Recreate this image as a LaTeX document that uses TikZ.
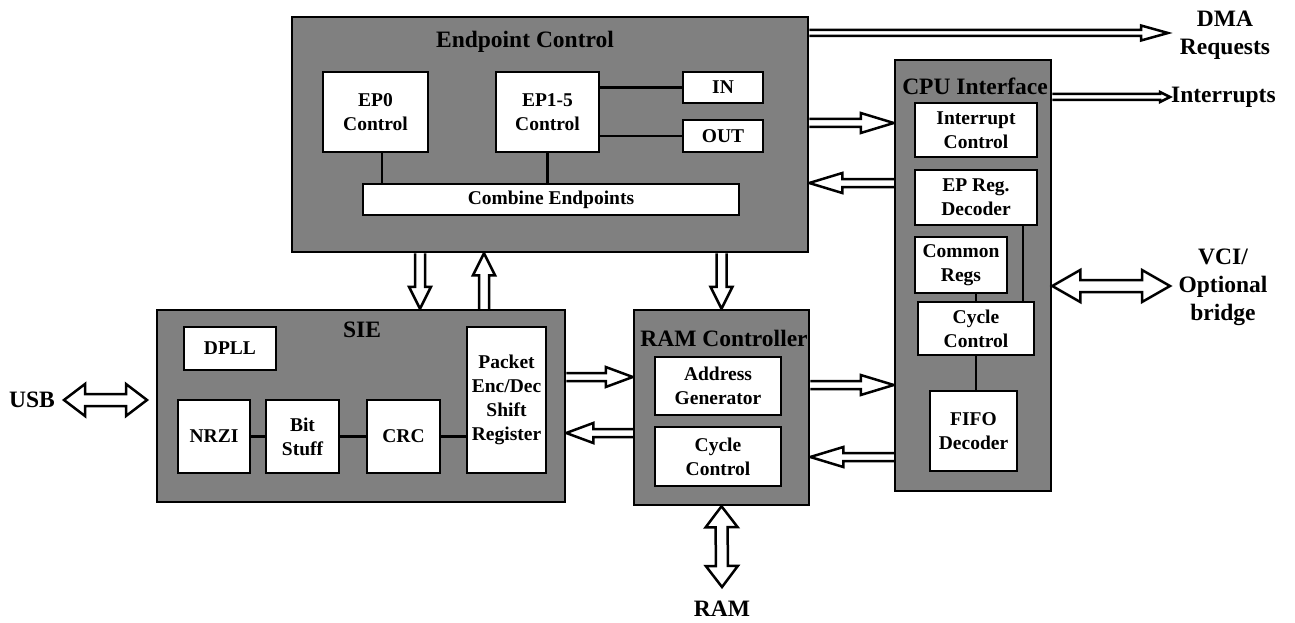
\documentclass[tikz,border=0pt]{standalone}
\usepackage{fontspec}
\setmainfont{Liberation Serif}
\usetikzlibrary{calc,backgrounds}
\definecolor{boxgray}{HTML}{808080}
\newcommand{\oneway}[5]{%
  \coordinate (tmpP) at ($(#2)!#5!(#1)$);
  \draw[arrowshape] ($(#1)!#3!90:(#2)$) -- ($(tmpP)!#3!90:(#2)$) -- ($(tmpP)!#4!90:(#2)$) -- (#2) -- ($(tmpP)!#4!-90:(#2)$) -- ($(tmpP)!#3!-90:(#2)$) -- ($(#1)!#3!-90:(#2)$);}
\newcommand{\twoway}[5]{%
  \coordinate (tmpP) at ($(#2)!#5!(#1)$);
  \coordinate (tmpQ) at ($(#1)!#5!(#2)$);
  \draw[arrowshape] (#1) -- ($(tmpQ)!#4!90:(#2)$) -- ($(tmpQ)!#3!90:(#2)$) -- ($(tmpP)!#3!90:(#2)$) -- ($(tmpP)!#4!90:(#2)$) -- (#2) -- ($(tmpP)!#4!-90:(#2)$) -- ($(tmpP)!#3!-90:(#2)$) -- ($(tmpQ)!#3!-90:(#2)$) -- ($(tmpQ)!#4!-90:(#2)$) -- cycle;}
\begin{document}
\begin{tikzpicture}[x=1pt,y=-1pt,
  outer/.style={draw, line width=2.5pt, fill=boxgray, inner sep=0pt},
  inner/.style={draw, line width=2.5pt, fill=white, inner sep=1pt, align=center,
    font=\bfseries\fontsize{19.5}{24}\selectfont},
  title/.style={inner sep=1pt, align=center, font=\bfseries\fontsize{23.5}{28}\selectfont},
  arrowshape/.style={draw, fill=white, line width=2.5pt, line join=miter},
  conn/.style={line width=2.5pt}]
\useasboundingbox (0,0) rectangle (1295,623);

% Endpoint Control
\node[outer, minimum width=516pt, minimum height=235pt] (ec) at (550,134.5) {};
\node[title] (ectitle) at (525,42) {Endpoint Control};
\node[inner, minimum width=105pt, minimum height=80pt] (ep0) at (375.5,112) {EP0\\Control};
\node[inner, minimum width=103pt, minimum height=80pt] (ep15) at (547.5,112) {EP1-5\\Control};
\node[inner, minimum width=80pt, minimum height=31pt] (in) at (723,87.5) {IN};
\node[inner, minimum width=80pt, minimum height=32pt] (out) at (723,136) {OUT};
\node[inner, minimum width=376pt, minimum height=31pt] (comb) at (551,199.5) {Combine Endpoints};
\coordinate (x382) at (382,0);
\draw[conn] (in.west) -- (in.west -| ep15.east);
\draw[conn] (out.west) -- (out.west -| ep15.east);
\draw[conn] (ep0.south -| x382) -- (comb.north -| x382);
\draw[conn] (ep15.south) -- (ep15.south |- comb.north);

% CPU Interface
\node[outer, minimum width=156pt, minimum height=431pt] (cpu) at (973,275.5) {};
\node[title] (cputitle) at (975,86) {CPU Interface};
\node[inner, minimum width=122pt, minimum height=54pt] (intc) at (976,130) {Interrupt\\Control};
\node[inner, minimum width=122pt, minimum height=55pt] (epreg) at (976,197.5) {EP Reg.\\Decoder};
\node[inner, minimum width=92pt, minimum height=56pt] (com) at (961,265) {Common\\Regs};
\node[inner, minimum width=116pt, minimum height=53pt] (cyc2) at (976,328.5) {Cycle\\Control};
\node[inner, minimum width=87pt, minimum height=80pt] (fifo) at (973.5,431) {FIFO\\Decoder};
\coordinate (x1023) at (1023,0);
\draw[conn] (epreg.south -| x1023) -- (cyc2.north -| x1023);
\draw[conn] (cyc2.north) -- (cyc2.north |- com.south);
\draw[conn] (cyc2.south) -- (cyc2.south |- fifo.north);

% SIE
\node[outer, minimum width=408pt, minimum height=192pt] (sie) at (361,406) {};
\node[title] (sietitle) at (362,330) {SIE};
\node[inner, minimum width=92pt, minimum height=43pt] (dpll) at (230,348.5) {DPLL};
\node[inner, minimum width=72pt, minimum height=73pt] (nrzi) at (214,436.5) {NRZI};
\node[inner, minimum width=73pt, minimum height=73pt] (bit) at (302.5,436.5) {Bit\\Stuff};
\node[inner, minimum width=73pt, minimum height=73pt] (crc) at (403.5,436.5) {CRC};
\node[inner, minimum width=79pt, minimum height=146pt] (pkt) at (506.5,400) {Packet\\Enc/Dec\\Shift\\Register};
\draw[conn] (nrzi.east) -- (bit.west);
\draw[conn] (bit.east) -- (crc.west);
\draw[conn] (crc.east) -- (crc.east -| pkt.west);

% RAM Controller
\node[outer, minimum width=175pt, minimum height=195pt] (ram) at (721.5,407.5) {};
\node[title] (ramtitle) at (724,338) {RAM Controller};
\node[inner, minimum width=126pt, minimum height=58pt] (addr) at (718,386) {Address\\Generator};
\node[inner, minimum width=126pt, minimum height=59pt] (cyc1) at (718,456.5) {Cycle\\Control};

% external labels
\node[title] (dma) at (1225,35) {DMA\\Requests};
\node[title, anchor=west] (intl) at (1170,97) {Interrupts};
\node[title] (vci) at (1223,287) {VCI/\\Optional\\bridge};
\node[title] (usb) at (32,400) {USB};
\node[title] (ramlbl) at (722,609) {RAM};

% arrows
\coordinate (y123) at (0,123); \coordinate (y183) at (0,183);
\coordinate (y377) at (0,377); \coordinate (y433) at (0,433);
\coordinate (y385) at (0,385); \coordinate (y457) at (0,457);
\coordinate (y33) at (0,33); \coordinate (y97) at (0,97);
\coordinate (y286) at (0,286);
\coordinate (x420) at (420,0); \coordinate (x484) at (484,0);

\coordinate (a1s) at (ec.east |- y123); \coordinate (a1e) at (cpu.west |- y123);
\coordinate (a2s) at (cpu.west |- y183); \coordinate (a2e) at (ec.east |- y183);
\coordinate (a3s) at (ec.south -| ram.north); \coordinate (a3e) at (ram.north);
\coordinate (a4s) at (ec.south -| x420); \coordinate (a4e) at (sie.north -| x420);
\coordinate (a5s) at (sie.north -| x484); \coordinate (a5e) at (ec.south -| x484);
\coordinate (a6s) at (sie.east |- y377); \coordinate (a6e) at (ram.west |- y377);
\coordinate (a7s) at (ram.west |- y433); \coordinate (a7e) at (sie.east |- y433);
\coordinate (a8s) at (ram.east |- y385); \coordinate (a8e) at (cpu.west |- y385);
\coordinate (a9s) at (cpu.west |- y457); \coordinate (a9e) at (ram.east |- y457);
\coordinate (dmas) at (ec.east |- y33); \coordinate (dmae) at (1168,33);
\coordinate (ints) at (cpu.east |- y97); \coordinate (inte) at (intl.west);
\coordinate (vcis) at (cpu.east |- y286); \coordinate (vcie) at (1170,286);
\coordinate (usbl) at (64,400); \coordinate (usbr) at (147,400);
\coordinate (rams) at (ram.south); \coordinate (rame) at (722,587);

\begin{scope}[on background layer]
\oneway{a1s}{a1e}{4pt}{10pt}{33pt}
\oneway{a2s}{a2e}{4pt}{10pt}{33pt}
\oneway{a3s}{a3e}{5pt}{11pt}{22pt}
\oneway{a4s}{a4e}{5pt}{11pt}{22pt}
\oneway{a5s}{a5e}{5pt}{11pt}{22pt}
\oneway{a6s}{a6e}{4pt}{10pt}{27pt}
\oneway{a7s}{a7e}{4pt}{10pt}{27pt}
\oneway{a8s}{a8e}{4pt}{10pt}{33pt}
\oneway{a9s}{a9e}{4pt}{10pt}{33pt}
\oneway{dmas}{dmae}{3pt}{7.5pt}{27pt}
\oneway{ints}{inte}{3pt}{5pt}{10pt}
\end{scope}
\twoway{vcis}{vcie}{6pt}{16pt}{28pt}
\twoway{usbl}{usbr}{6pt}{16pt}{21pt}
\twoway{rams}{rame}{6pt}{16pt}{21pt}
\end{tikzpicture}
\end{document}
